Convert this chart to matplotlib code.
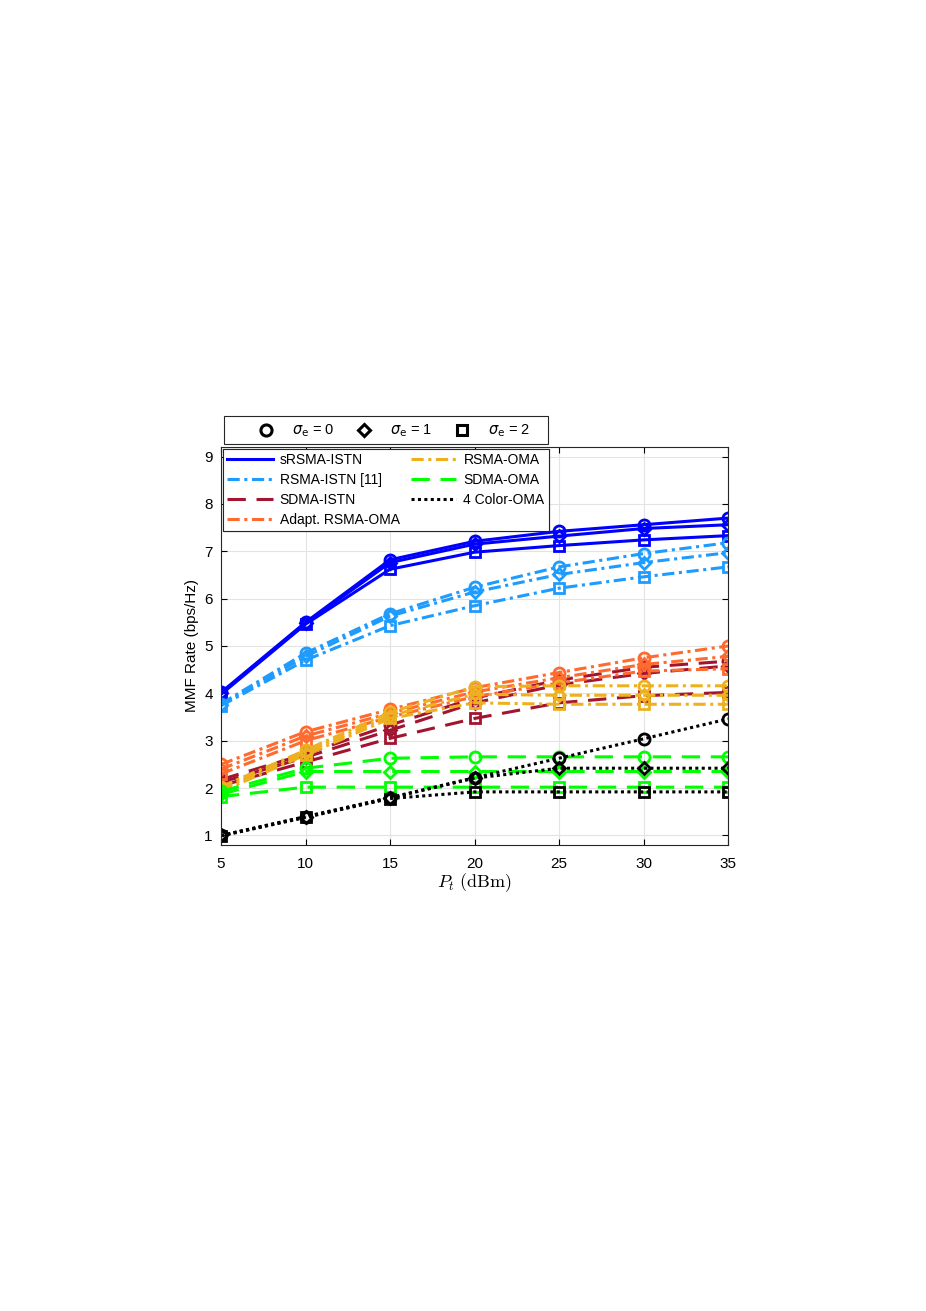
import matplotlib
matplotlib.use("Agg")
import matplotlib.pyplot as plt
from matplotlib.lines import Line2D
from matplotlib.patches import Rectangle

plt.rcParams['font.family'] = ['Liberation Sans', 'DejaVu Sans']
plt.rcParams['mathtext.fontset'] = 'cm'

pt = [5, 10, 15, 20, 25, 30, 35]
sigmas = [0, 1, 2]

# each scheme: rows are sigma_e = 0, 1, 2
srsma_istn = [[4.02, 5.50, 6.82, 7.21, 7.42, 7.56, 7.70],
              [4.00, 5.48, 6.76, 7.15, 7.32, 7.48, 7.56],
              [3.98, 5.46, 6.62, 6.98, 7.12, 7.24, 7.33]]
rsma_istn = [[3.78, 4.85, 5.68, 6.24, 6.67, 6.95, 7.18],
             [3.76, 4.78, 5.63, 6.14, 6.51, 6.76, 6.97],
             [3.74, 4.70, 5.43, 5.85, 6.22, 6.46, 6.67]]
sdma_istn = [[2.18, 2.72, 3.33, 3.90, 4.28, 4.55, 4.68],
             [2.12, 2.65, 3.22, 3.80, 4.18, 4.42, 4.58],
             [2.05, 2.55, 3.05, 3.47, 3.80, 3.95, 4.02]]
adapt_rsma_oma = [[2.50, 3.19, 3.66, 4.12, 4.44, 4.75, 5.00],
                  [2.40, 3.10, 3.58, 4.03, 4.33, 4.61, 4.78],
                  [2.30, 3.00, 3.50, 3.93, 4.22, 4.47, 4.52]]
rsma_oma = [[2.03, 2.80, 3.60, 4.14, 4.16, 4.16, 4.16],
            [1.98, 2.75, 3.53, 3.98, 3.96, 3.96, 3.96],
            [1.93, 2.70, 3.47, 3.80, 3.77, 3.77, 3.77]]
sdma_oma = [[1.93, 2.42, 2.63, 2.66, 2.66, 2.66, 2.66],
            [1.87, 2.35, 2.35, 2.35, 2.35, 2.35, 2.35],
            [1.82, 2.02, 2.02, 2.02, 2.02, 2.02, 2.02]]
color_oma = [[1.00, 1.40, 1.80, 2.22, 2.63, 3.04, 3.46],
             [1.00, 1.39, 1.79, 2.21, 2.42, 2.42, 2.42],
             [0.99, 1.38, 1.78, 1.92, 1.92, 1.92, 1.92]]

names = ['sRSMA-ISTN', 'RSMA-ISTN [11]', 'SDMA-ISTN', 'Adapt. RSMA-OMA',
         'RSMA-OMA', 'SDMA-OMA', '4 Color-OMA']
series = [srsma_istn, rsma_istn, sdma_istn, adapt_rsma_oma, rsma_oma, sdma_oma, color_oma]
colors = ['#0000FF', '#1E9BFF', '#A2142F', '#FF6A2E', '#EDB120', '#00FF00', '#000000']

# matlab-ish dash patterns (scaled by line width)
solid = '-'
dashed = (0, (6.0, 3.5))
dashdot = (0, (4.0, 1.5, 1.0, 1.5))
dotted = (0, (1.0, 1.1))
styles = [solid, dashdot, dashed, dashdot, dashdot, dashed, dotted]
markers = ['o', 'D', 's']
msize = {'o': 8, 'D': 6.5, 's': 7}

W, H = 926, 1311
fig = plt.figure(figsize=(W / 100, H / 100), dpi=100)
ax = fig.add_axes([0.2387, 0.3555, 0.5475, 0.3035])

for vals, c, ls in zip(series, colors, styles):
    for row, m in zip(vals, markers):
        ax.plot(pt, row, color=c, linestyle=ls, linewidth=2.2, marker=m,
                markersize=msize[m], markerfacecolor='none',
                markeredgewidth=2, markeredgecolor=c)

ax.set_xlim(5, 35)
ax.set_ylim(0.8, 9.2)
ax.set_xticks(pt)
ax.set_yticks(range(1, 10))
ax.tick_params(direction='in', labelsize=11, length=4, top=True, right=True)
ax.tick_params(axis='x', pad=9)
ax.tick_params(axis='y', pad=6)
ax.grid(True, color='#e3e3e3', linewidth=0.8)
ax.set_axisbelow(True)
for s in ax.spines.values():
    s.set_color('#262626')
    s.set_linewidth(0.8)
ax.set_xlabel(r'$P_t\ \mathrm{(dBm)}$', fontsize=13, labelpad=0)
ax.set_ylabel('MMF Rate (bps/Hz)', fontsize=11, labelpad=4)

line_handles = [Line2D([], [], color=c, linestyle=ls, linewidth=2.2)
                for c, ls in zip(colors, styles)]
leg = ax.legend(line_handles, names, ncol=2, loc='upper left',
                bbox_to_anchor=(0.003, 0.995), fontsize=10, frameon=True,
                fancybox=False, edgecolor='#262626', framealpha=1,
                handlelength=3.3, handletextpad=0.5, columnspacing=0.8,
                labelspacing=0.42, borderpad=0.3, borderaxespad=0)
leg.get_frame().set_linewidth(0.8)
ax.add_artist(leg)

# marker legend above the axes, box drawn by hand like matlab
fig.patches.append(Rectangle((224 / W, 1 - 444 / H), (548 - 224) / W, 28 / H,
                             transform=fig.transFigure, facecolor='white',
                             edgecolor='#262626', linewidth=0.8))
mk_handles = [Line2D([], [], color='black', linestyle='none', marker=m,
                     markersize=msize[m], markerfacecolor='none', markeredgewidth=2.2)
              for m in markers]
mk_labels = [r'$\sigma_{\mathrm{e}}$ = %d' % s for s in sigmas]
mleg = fig.legend(mk_handles, mk_labels, ncol=3, loc='center left',
                  bbox_to_anchor=(246 / W, 1 - 431 / H), fontsize=10.5,
                  frameon=False, handlelength=2.74, handletextpad=0.4,
                  columnspacing=0.7, borderpad=0, borderaxespad=0)
for t in mleg.get_texts():
    t.set_math_fontfamily('dejavusans')

fig.savefig('out.png', dpi=100)
